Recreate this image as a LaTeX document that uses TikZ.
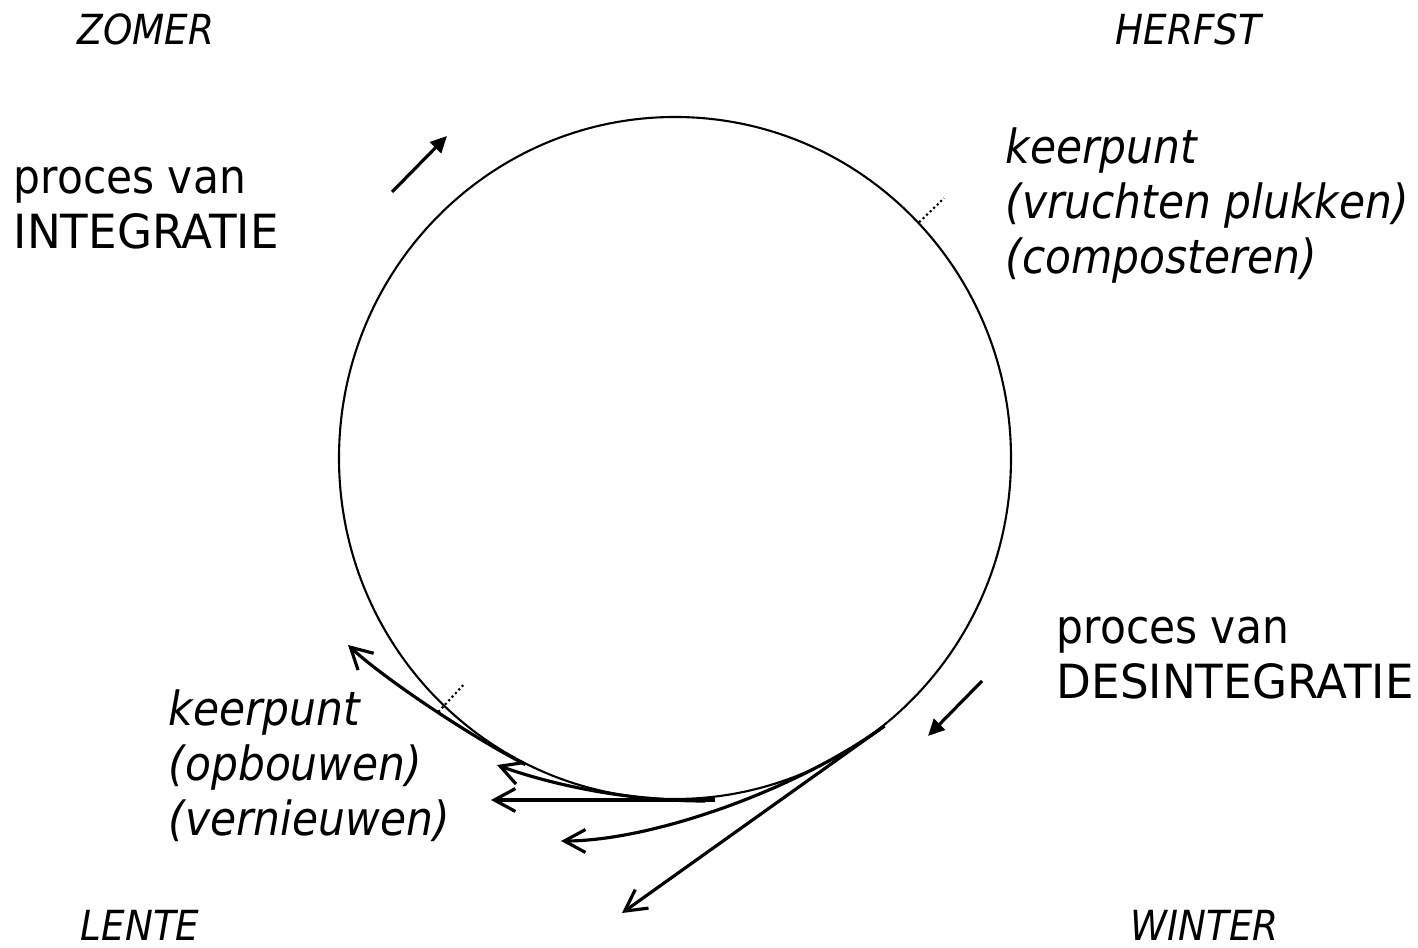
\documentclass[tikz,border=0pt]{standalone}
\usepackage{fontspec}
\setmainfont{DejaVu Sans}[FakeStretch=0.9]
\newfontfamily\capsfont{DejaVu Sans}[FakeStretch=0.96]
\usetikzlibrary{arrows.meta,shapes.geometric}

\begin{document}
\begin{tikzpicture}[
        season/.style={anchor=base west,inner sep=0,font=\fontsize{11.8}{14}\selectfont\itshape},
        remark/.style={anchor=north west,inner sep=0,align=left,font=\fontsize{13.4}{15.65}\selectfont},
        turn/.style={draw,line width=0.6pt,dash pattern=on 0.6pt off 0.8pt},
        flow/.style={draw,line width=0.9pt,-{Triangle[length=4.7pt,width=4.4pt]}},
        branch/.style={draw,line width=0.9pt,-{Straight Barb[length=6pt,width=6.5pt]}}
    ]
        \useasboundingbox (0,0) rectangle (14.18,9.47);

        \node[ellipse,draw,line width=0.6pt,inner sep=0,minimum width=6.72cm,minimum height=6.82cm] (wheel) at (6.75,4.89){};

        \node[season] (zomer) at (0.77,9.02){ZOMER};
        \node[season] (herfst) at (11.15,9.02){HERFST};
        \node[season] (lente) at (0.80,0.07){LENTE};
        \node[season] (winter) at (11.30,0.07){WINTER};

        \node[remark] (integratie) at (0.13,7.925){\strut proces van\\{\capsfont INTEGRATIE}};
        \node[remark] (desintegratie) at (10.56,3.425){\strut proces van\\{\capsfont DESINTEGRATIE}};
        \node[remark,font=\fontsize{13.4}{15.65}\selectfont\itshape] (keerherfst) at (10.05,8.225){\strut keerpunt\\(vruchten plukken)\\(composteren)};
        \node[remark,font=\fontsize{13.4}{15.65}\selectfont\itshape] (keerlente) at (1.68,2.605){\strut keerpunt\\(opbouwen)\\(vernieuwen)};

        % direction of the cycle
        \coordinate (up) at (3.92,7.55);
        \coordinate (uptip) at (4.47,8.11);
        \coordinate (down) at (9.82,2.66);
        \coordinate (downtip) at (9.28,2.11);
        \path[flow] (up) -- (uptip);
        \path[flow] (down) -- (downtip);

        % turning points
        \coordinate (herfstout) at ([shift={(44:3.74)}]wheel.center);
        \coordinate (lenteout) at ([shift={(227:3.47)}]wheel.center);
        \coordinate (lentein) at ([shift={(227:3.10)}]wheel.center);
        \path[turn] (wheel.44) -- (herfstout);
        \path[turn] (lenteout) -- (lentein);

        % branches leaving the circle
        \coordinate (low1) at (7.05,1.46);
        \coordinate (low2) at (7.15,1.47);
        \coordinate (tip1) at (3.48,3.02);
        \coordinate (tip2) at (4.97,1.82);
        \coordinate (tip3) at (4.91,1.47);
        \coordinate (tip4) at (5.61,1.06);
        \coordinate (tip5) at (6.22,0.34);
        \path[branch] (wheel.244) .. controls +(153:0.6) and +(-43:0.5) .. (tip1);
        \path[branch] (low1) .. controls +(180:0.85) and +(-20:0.5) .. (tip2);
        \path[branch] (low2) -- (tip3);
        \path[branch] (wheel.308) .. controls +(216:1.1) and +(0:0.9) .. (tip4);
        \path[branch] (wheel.308) -- (tip5);

    \end{tikzpicture}
\end{document}
